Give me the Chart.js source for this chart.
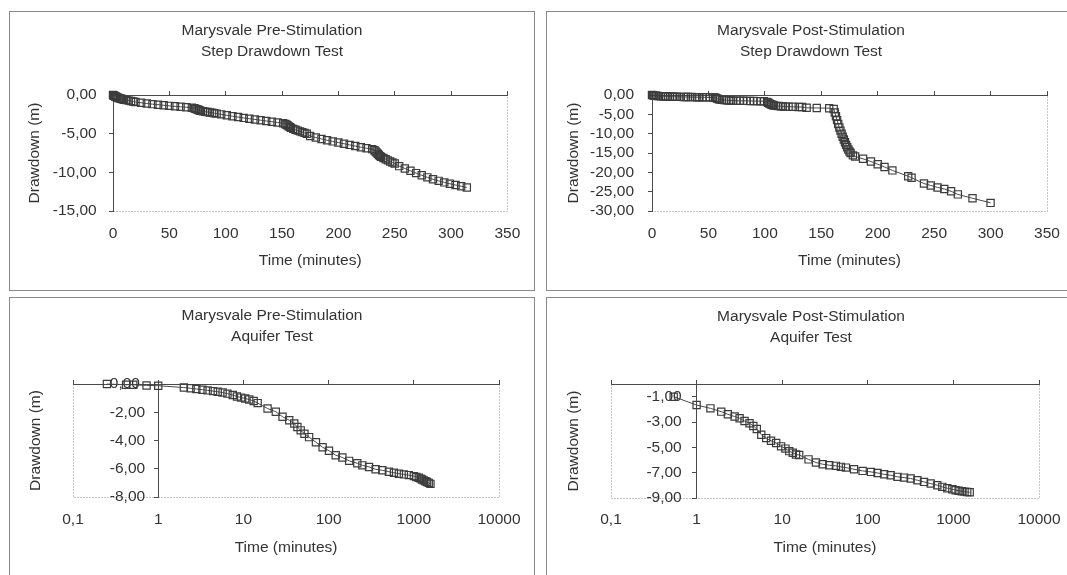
<!DOCTYPE html>
<html>
<head>
<meta charset="utf-8">
<title>Marysvale drawdown tests</title>
<script src="https://cdn.jsdelivr.net/npm/chart.js@4.4.0/dist/chart.umd.min.js"></script>
<style>
  html, body { margin: 0; padding: 0; background: #fff; }
  body { width: 1067px; height: 575px; overflow: hidden; position: relative; }
  .panel { position: absolute; border: 1px solid #8a8a8a; background: #fff; }
  .panel canvas { display: block; }
</style>
</head>
<body>
<div class="panel" style="left:9px;top:11px;width:524px;height:278px"><canvas id="preStep" width="524" height="278"></canvas></div>
<div class="panel" style="left:546px;top:11px;width:528px;height:278px"><canvas id="postStep" width="528" height="278"></canvas></div>
<div class="panel" style="left:9px;top:297px;width:524px;height:290px"><canvas id="preAquifer" width="524" height="277"></canvas></div>
<div class="panel" style="left:546px;top:297px;width:528px;height:290px"><canvas id="postAquifer" width="528" height="277"></canvas></div>

<script>
// ---- data (time in minutes, drawdown in m) ----

// Pre-stimulation step drawdown test
const preStepTime = [0, 0.5, 1, 1.5, 2, 2.5, 3, 4, 5, 6, 7, 8, 9, 10, 12, 14, 16, 18,
  20, 25, 30, 35, 40, 45, 50, 55, 60, 65, 70,
  72, 73, 74, 75, 76, 77, 78, 80, 82, 84, 86, 88, 90, 92,
  96, 101, 106, 111, 116, 121, 126, 131, 136, 141, 146, 151,
  153, 154, 155, 156, 157, 158, 160, 162, 164, 166, 168, 170, 172,
  175, 180, 185, 190, 195, 200, 205, 210, 215, 220, 225, 230,
  232, 233, 234, 235, 236, 237, 238, 240, 242, 244, 246, 248, 250,
  254, 259, 264, 269, 274, 279, 284, 289, 294, 299, 304, 309, 314];
const preStepDrawdown = [0, -0.05, -0.1, -0.14, -0.18, -0.22, -0.26, -0.32, -0.38, -0.43, -0.48, -0.52, -0.56, -0.6, -0.66, -0.72, -0.78, -0.84,
  -0.9, -1.0, -1.1, -1.18, -1.25, -1.32, -1.4, -1.46, -1.52, -1.58, -1.64,
  -1.7, -1.76, -1.82, -1.88, -1.94, -2.0, -2.05, -2.1, -2.16, -2.2, -2.25, -2.3, -2.35, -2.4,
  -2.5, -2.62, -2.74, -2.85, -2.96, -3.06, -3.16, -3.26, -3.36, -3.46, -3.55, -3.64,
  -3.75, -3.85, -3.95, -4.05, -4.15, -4.25, -4.38, -4.5, -4.6, -4.7, -4.8, -4.9, -5.0,
  -5.3, -5.5, -5.68, -5.85, -6.0, -6.15, -6.3, -6.45, -6.6, -6.75, -6.88, -7.0,
  -7.15, -7.3, -7.45, -7.6, -7.75, -7.9, -8.0, -8.15, -8.3, -8.45, -8.6, -8.72, -8.85,
  -9.2, -9.5, -9.8, -10.1, -10.38, -10.65, -10.9, -11.1, -11.3, -11.48, -11.64, -11.8, -11.95];

// Post-stimulation step drawdown test
const postStepTime = [0, 1, 2, 3, 4, 5, 6, 8, 10, 12, 14, 16, 18, 20, 22, 25, 28, 30, 32, 35, 38, 40, 42, 45, 48, 51, 54, 56,
  57, 58, 59, 60, 62, 64, 66, 68, 70, 72, 75, 78, 81, 84, 87, 90, 93, 96, 99,
  102, 103, 104, 105, 106, 107, 108, 110, 112, 114, 116, 118, 121, 125, 130, 133, 137, 146, 157,
  161, 162, 163, 164, 165, 166, 167, 168, 169, 170, 171, 172, 173, 174, 175, 176, 178,
  180, 187, 194, 200, 206, 213, 227, 230, 241, 247, 253, 259, 265, 271, 284, 300];
const postStepDrawdown = [0, -0.1, -0.15, -0.2, -0.22, -0.25, -0.28, -0.3, -0.33, -0.36, -0.38, -0.4, -0.42, -0.45, -0.45, -0.47, -0.5, -0.5, -0.52, -0.53, -0.55, -0.56, -0.57, -0.58, -0.6, -0.6, -0.62, -0.65,
  -0.8, -0.95, -1.05, -1.15, -1.25, -1.3, -1.35, -1.4, -1.42, -1.45, -1.48, -1.5, -1.5, -1.52, -1.55, -1.55, -1.57, -1.6, -1.6,
  -1.8, -2.0, -2.2, -2.35, -2.5, -2.6, -2.7, -2.8, -2.85, -2.9, -2.95, -3.0, -3.0, -3.05, -3.1, -3.1, -3.3, -3.35, -3.4,
  -3.6, -4.5, -5.5, -6.5, -7.5, -8.4, -9.2, -10.0, -10.8, -11.5, -12.2, -12.9, -13.5, -14.1, -14.6, -15.0, -15.6,
  -15.9, -16.5, -17.2, -17.9, -18.6, -19.5, -21.0, -21.4, -22.9, -23.4, -23.9, -24.3, -24.9, -25.7, -26.7, -27.9];

// Pre-stimulation aquifer test
const preAquiferTime = [0.25, 0.42, 0.51, 0.73, 1.0,
  2.0, 2.4, 2.8, 3.3, 3.8, 4.4, 5.0, 5.7, 6.5, 7.5, 8.4, 9.4, 10.5, 11.7, 13.2, 14.7,
  19.2, 24, 28.8, 34.5, 39.5, 43, 47, 52, 59, 71, 85, 101, 121, 145, 174, 217, 249, 298, 356, 427,
  510, 584, 668, 764, 873, 1000, 1070, 1143, 1200, 1250, 1310, 1368, 1430, 1496, 1566];
const preAquiferDrawdown = [0, -0.05, -0.05, -0.1, -0.12,
  -0.25, -0.3, -0.35, -0.4, -0.45, -0.5, -0.55, -0.6, -0.68, -0.78, -0.88, -0.96, -1.02, -1.1, -1.2, -1.35,
  -1.73, -1.96, -2.32, -2.56, -2.8, -3.04, -3.28, -3.52, -3.76, -4.12, -4.48, -4.72, -5.04, -5.2, -5.44, -5.61, -5.76, -5.87, -6.04, -6.11,
  -6.21, -6.28, -6.35, -6.4, -6.45, -6.52, -6.58, -6.64, -6.7, -6.76, -6.82, -6.88, -6.94, -7.0, -7.07];

// Post-stimulation aquifer test
const postAquiferTime = [0.54,
  1.0, 1.45, 1.94, 2.32, 2.78, 3.18, 3.63, 4.15, 4.6, 5.05, 5.7, 6.5, 7.4, 8.5, 9.7, 10.9, 12.1, 13.3, 14.5, 15.8,
  20.3, 24.8, 29.7, 35.5, 42.4, 48.5, 55.5, 69, 87, 109, 130, 155, 185, 222, 265, 317, 380, 454, 543, 649,
  742, 849, 971, 1062, 1150, 1250, 1350, 1450, 1550];
const postAquiferDrawdown = [-1.0,
  -1.66, -1.92, -2.18, -2.39, -2.57, -2.7, -2.92, -3.1, -3.31, -3.55, -4.0, -4.27, -4.48, -4.66, -4.92, -5.1, -5.3, -5.43, -5.57, -5.6,
  -5.95, -6.2, -6.33, -6.41, -6.46, -6.54, -6.6, -6.73, -6.86, -6.94, -7.02, -7.13, -7.2, -7.33, -7.39, -7.46, -7.6, -7.73, -7.86, -7.99,
  -8.12, -8.23, -8.31, -8.39, -8.43, -8.47, -8.5, -8.53, -8.55];

// ---- axis ticks and labels ----
const stepTimeTicks = [0, 50, 100, 150, 200, 250, 300, 350];
const stepTimeLabels = ['0', '50', '100', '150', '200', '250', '300', '350'];
const logTimeTicks = [0.1, 1, 10, 100, 1000, 10000];
const logTimeLabels = ['0,1', '1', '10', '100', '1000', '10000'];

const preStepYTicks = [-15, -10, -5, 0];
const preStepYLabels = ['-15,00', '-10,00', '-5,00', '0,00'];
const postStepYTicks = [-30, -25, -20, -15, -10, -5, 0];
const postStepYLabels = ['-30,00', '-25,00', '-20,00', '-15,00', '-10,00', '-5,00', '0,00'];
const preAquiferYTicks = [-8, -6, -4, -2, 0];
const preAquiferYLabels = ['-8,00', '-6,00', '-4,00', '-2,00', '0,00'];
const postAquiferYTicks = [-9, -7, -5, -3, -1];
const postAquiferYLabels = ['-9,00', '-7,00', '-5,00', '-3,00', '-1,00'];

// ---- styling ----
const FONT = "'Liberation Sans', Arial, Helvetica, sans-serif";
const INK = '#333';
const AXIS = '#4a4a4a';
const textFont = { family: FONT, size: 15.5, weight: 'normal' };

// dotted plot-area border, drawn under the axes
const plotFrame = {
  id: 'plotFrame',
  beforeDraw(chart) {
    const { ctx, chartArea: a } = chart;
    ctx.save();
    ctx.strokeStyle = '#8c8c8c';
    ctx.lineWidth = 1;
    ctx.setLineDash([1, 2]);
    ctx.strokeRect(Math.round(a.left) + 0.5, Math.round(a.top) + 0.5, Math.round(a.width), Math.round(a.height));
    ctx.restore();
  }
};

function setTicks(values) {
  return scale => { scale.ticks = values.map(v => ({ value: v })); };
}

function buildChart(id, p) {
  const xType = p.log ? 'logarithmic' : 'linear';
  const xMin = p.xTicks[0];
  const xMax = p.xTicks[p.xTicks.length - 1];

  const scales = {
    x: {
      type: xType, position: 'bottom', min: xMin, max: xMax,
      afterBuildTicks: setTicks(p.xTicks),
      afterFit: s => { s.height = p.bottomH; },
      grid: { display: false, drawTicks: false },
      border: { display: false },
      ticks: {
        autoSkip: false, maxRotation: 0, padding: p.xTickPad, color: INK, font: textFont,
        callback: (v, i) => p.xLabels[i]
      },
      title: { display: true, text: 'Time (minutes)', color: INK, font: textFont, padding: { top: 0, bottom: p.xTitlePad } }
    },
    // x axis line runs along drawdown = 0, tick marks pointing up
    xTop: {
      axis: 'x', type: xType, position: 'top', min: xMin, max: xMax,
      afterBuildTicks: setTicks(p.xTicks),
      afterFit: s => { s.height = 5; },
      grid: { drawOnChartArea: false, drawTicks: true, tickLength: 4, color: AXIS },
      border: { display: true, color: AXIS, width: 1 },
      ticks: { display: false }
    },
    y: {
      type: 'linear', position: 'left', min: p.yMin, max: p.yMax,
      afterBuildTicks: setTicks(p.yTicks),
      afterFit: s => { s.width = p.yW; },
      ticks: { autoSkip: false, padding: p.yTickPad, color: INK, font: textFont, callback: (v, i) => p.yLabels[i] },
      title: { display: true, text: 'Drawdown (m)', color: INK, font: textFont, padding: { top: p.yTitlePad, bottom: 0 } }
    },
    yRight: {
      axis: 'y', position: 'right',
      afterFit: s => { s.width = p.rightW; },
      grid: { display: false, drawTicks: false },
      border: { display: false },
      ticks: { display: false }
    }
  };

  if (p.log) {
    // labels sit beside the value axis at t = 1, inside the plot area (mirrored so they are not clipped)
    scales.y.grid = { display: false, drawTicks: false };
    scales.y.border = { display: false };
    scales.y.ticks.mirror = true;
    scales.yLine = {
      axis: 'y', type: 'linear', position: { x: 1 }, min: p.yMin, max: p.yMax,
      afterBuildTicks: setTicks(p.yTicks),
      grid: { drawOnChartArea: false, drawTicks: true, tickLength: 4, color: AXIS },
      border: { display: true, color: AXIS, width: 1 },
      ticks: { display: false }
    };
  } else {
    scales.y.grid = { drawOnChartArea: false, drawTicks: true, tickLength: 4, color: AXIS };
    scales.y.border = { display: true, color: AXIS, width: 1 };
  }

  return new Chart(document.getElementById(id), {
    type: 'line',
    data: {
      datasets: [{
        data: p.time.map((t, i) => ({ x: t, y: p.drawdown[i] })),
        xAxisID: 'x',
        yAxisID: 'y',
        borderColor: '#4a4a4a',
        borderWidth: 1,
        tension: 0,
        pointStyle: 'rect',
        pointRadius: 5.1,
        pointBorderWidth: 1.2,
        pointBorderColor: '#3c3c3c',
        pointBackgroundColor: 'rgba(0,0,0,0)',
        clip: 10
      }]
    },
    options: {
      responsive: false,
      animation: false,
      events: [],
      layout: { padding: 0 },
      plugins: {
        legend: { display: false },
        tooltip: { enabled: false },
        title: {
          display: true, text: p.title, color: INK,
          font: { family: FONT, size: 15.5, weight: 'normal', lineHeight: 1.33 },
          padding: { top: p.titleTop, bottom: p.titleBottom }
        }
      },
      scales
    },
    plugins: [plotFrame]
  });
}

buildChart('preStep', {
  title: ['Marysvale Pre-Stimulation', 'Step Drawdown Test'],
  time: preStepTime, drawdown: preStepDrawdown,
  log: false, xTicks: stepTimeTicks, xLabels: stepTimeLabels,
  yTicks: preStepYTicks, yLabels: preStepYLabels, yMin: -15, yMax: 0,
  titleTop: 8.3, titleBottom: 28.5, bottomH: 79, xTickPad: 13.7, xTitlePad: 19.7,
  yW: 103, rightW: 25, yTickPad: 12.3, yTitlePad: 15.7
});

buildChart('postStep', {
  title: ['Marysvale Post-Stimulation', 'Step Drawdown Test'],
  time: postStepTime, drawdown: postStepDrawdown,
  log: false, xTicks: stepTimeTicks, xLabels: stepTimeLabels,
  yTicks: postStepYTicks, yLabels: postStepYLabels, yMin: -30, yMax: 0,
  titleTop: 8.3, titleBottom: 28.5, bottomH: 79, xTickPad: 13.7, xTitlePad: 19.7,
  yW: 105, rightW: 28, yTickPad: 14, yTitlePad: 17.3
});

buildChart('preAquifer', {
  title: ['Marysvale Pre-Stimulation', 'Aquifer Test'],
  time: preAquiferTime, drawdown: preAquiferDrawdown,
  log: true, xTicks: logTimeTicks, xLabels: logTimeLabels,
  yTicks: preAquiferYTicks, yLabels: preAquiferYLabels, yMin: -8, yMax: 0,
  titleTop: 7.6, titleBottom: 32.2, bottomH: 78, xTickPad: 13.4, xTitlePad: 18.4,
  yW: 63, rightW: 33, yTickPad: 36.8, yTitlePad: 16.7
});

buildChart('postAquifer', {
  title: ['Marysvale Post-Stimulation', 'Aquifer Test'],
  time: postAquiferTime, drawdown: postAquiferDrawdown,
  log: true, xTicks: logTimeTicks, xLabels: logTimeLabels,
  yTicks: postAquiferYTicks, yLabels: postAquiferYLabels, yMin: -9, yMax: 0,
  titleTop: 8.3, titleBottom: 31.5, bottomH: 77, xTickPad: 12.4, xTitlePad: 18.4,
  yW: 64, rightW: 36, yTickPad: 35.4, yTitlePad: 17.3
});
</script>
</body>
</html>
